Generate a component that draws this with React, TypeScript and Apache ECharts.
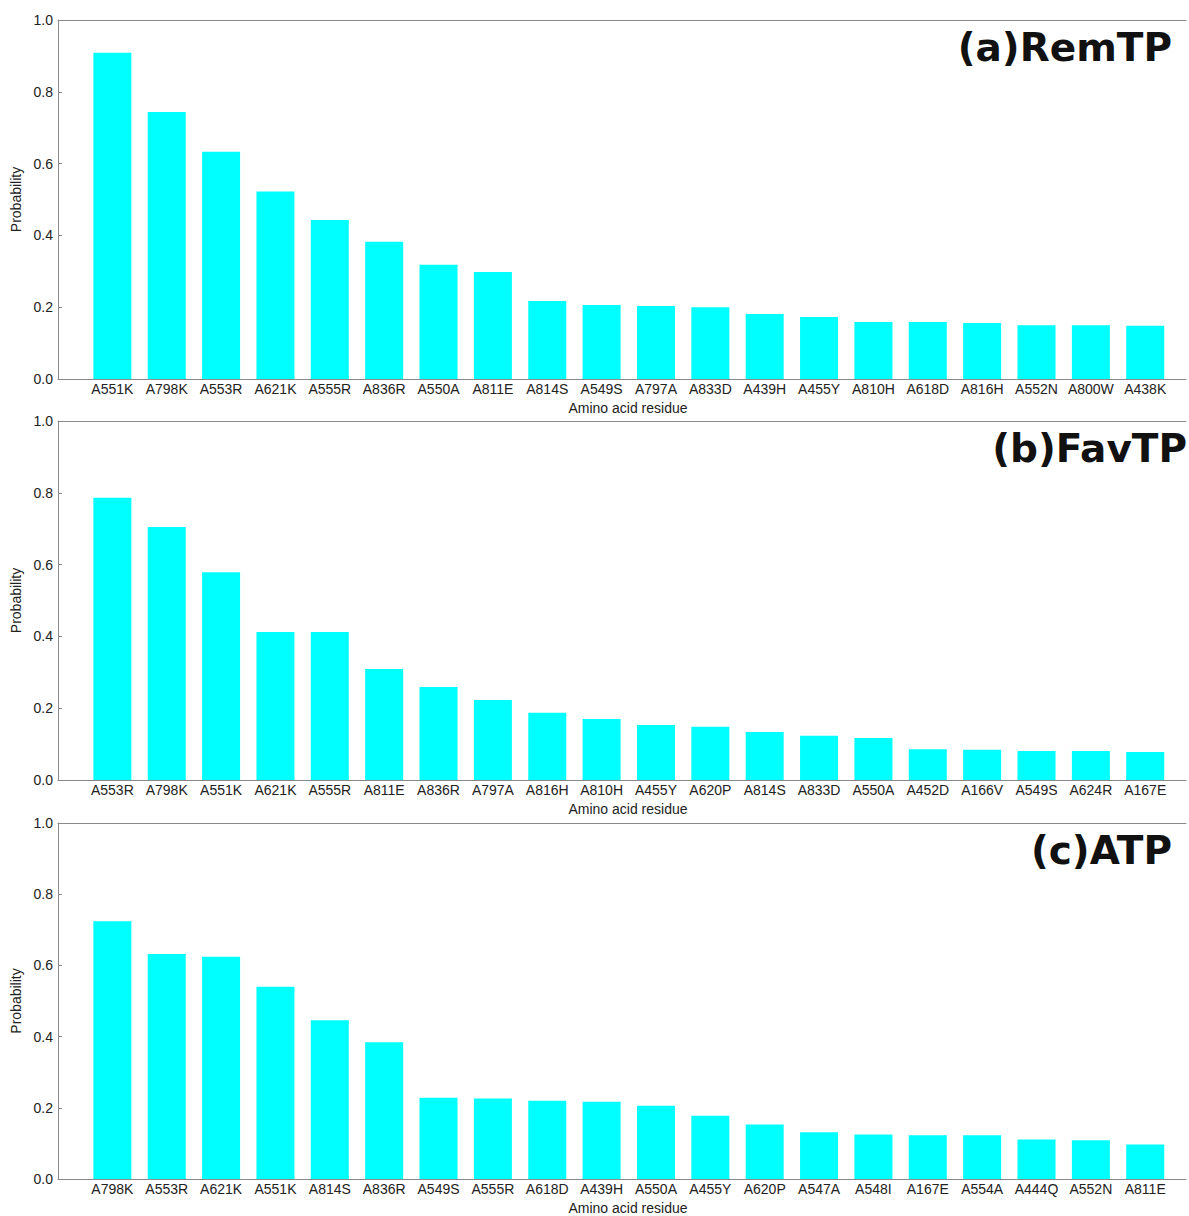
import React, { useEffect, useRef } from "react";
import * as echarts from "echarts";

// Residue labels and probabilities for each of the three ligands
const remtpResidues = ["A551K", "A798K", "A553R", "A621K", "A555R", "A836R", "A550A", "A811E", "A814S", "A549S", "A797A", "A833D", "A439H", "A455Y", "A810H", "A618D", "A816H", "A552N", "A800W", "A438K"];
const remtpValues = [0.909, 0.744, 0.633, 0.522, 0.443, 0.382, 0.318, 0.298, 0.217, 0.206, 0.203, 0.2, 0.181, 0.173, 0.159, 0.159, 0.156, 0.15, 0.15, 0.148];

const favtpResidues = ["A553R", "A798K", "A551K", "A621K", "A555R", "A811E", "A836R", "A797A", "A816H", "A810H", "A455Y", "A620P", "A814S", "A833D", "A550A", "A452D", "A166V", "A549S", "A624R", "A167E"];
const favtpValues = [0.786, 0.705, 0.579, 0.412, 0.412, 0.309, 0.259, 0.223, 0.187, 0.17, 0.153, 0.148, 0.134, 0.123, 0.117, 0.086, 0.084, 0.081, 0.081, 0.078];

const atpResidues = ["A798K", "A553R", "A621K", "A551K", "A814S", "A836R", "A549S", "A555R", "A618D", "A439H", "A550A", "A455Y", "A620P", "A547A", "A548I", "A167E", "A554A", "A444Q", "A552N", "A811E"];
const atpValues = [0.724, 0.632, 0.624, 0.54, 0.446, 0.384, 0.228, 0.226, 0.22, 0.217, 0.206, 0.178, 0.153, 0.131, 0.125, 0.123, 0.123, 0.111, 0.109, 0.097];

const panelTitles = ["(a)RemTP", "(b)FavTP", "(c)ATP"];
const yTicks = [0, 0.2, 0.4, 0.6, 0.8, 1.0];

const panels = [
  { residues: remtpResidues, values: remtpValues, title: panelTitles[0] },
  { residues: favtpResidues, values: favtpValues, title: panelTitles[1] },
  { residues: atpResidues, values: atpValues, title: panelTitles[2] },
];

const W = 1189;
const H = 1216;
const GRID_LEFT = 58;
const GRID_TOPS = [20, 421, 823];
const GRID_H = 359;
const X_MIN = -1;
const X_MAX = 19.75;
const AXIS_GRAY = "#8a8a8a";
const TEXT = "#222";
const FONT = "'Liberation Sans', Arial, sans-serif";

export default function App() {
  const ref = useRef<HTMLDivElement>(null);

  useEffect(() => {
    if (!ref.current) return;
    const chart = echarts.init(ref.current, null, { renderer: "svg" });

    const grids: any[] = [];
    const xAxes: any[] = [];
    const yAxes: any[] = [];
    const series: any[] = [];
    const graphics: any[] = [];

    panels.forEach((p, k) => {
      grids.push({ left: GRID_LEFT, top: GRID_TOPS[k], width: W - GRID_LEFT, height: GRID_H, containLabel: false });
      // bottom axis carrying the residue names
      xAxes.push({
        type: "value",
        gridIndex: k,
        min: X_MIN,
        max: X_MAX,
        interval: 1,
        position: "bottom",
        name: "Amino acid residue",
        nameLocation: "middle",
        nameGap: 22,
        nameTextStyle: { fontFamily: FONT, fontSize: 14, color: TEXT, padding: [0, 0, 0, 12] },
        axisLine: { show: true, onZero: false, lineStyle: { color: AXIS_GRAY, width: 1 } },
        axisTick: { show: false },
        splitLine: { show: false },
        axisLabel: {
          show: true,
          margin: 3,
          fontFamily: FONT,
          fontSize: 14,
          color: TEXT,
          showMinLabel: true,
          showMaxLabel: true,
          formatter: (v: number) => {
            const i = Math.round(v);
            if (Math.abs(v - i) > 1e-6 || i < 0 || i >= p.residues.length) return "";
            return p.residues[i];
          },
        },
      });
      // top frame line
      xAxes.push({
        type: "value",
        gridIndex: k,
        min: X_MIN,
        max: X_MAX,
        position: "top",
        axisLine: { show: true, onZero: false, lineStyle: { color: AXIS_GRAY, width: 1 } },
        axisTick: { show: false },
        axisLabel: { show: false },
        splitLine: { show: false },
      });
      yAxes.push({
        type: "value",
        gridIndex: k,
        min: 0,
        max: 1,
        interval: 0.2,
        position: "left",
        name: "Probability",
        nameLocation: "middle",
        nameGap: 34,
        nameTextStyle: { fontFamily: FONT, fontSize: 14, color: TEXT },
        axisLine: { show: true, onZero: false, lineStyle: { color: AXIS_GRAY, width: 1 } },
        axisTick: { show: true, inside: true, length: 4, lineStyle: { color: AXIS_GRAY } },
        splitLine: { show: false },
        axisLabel: {
          margin: 5,
          fontFamily: FONT,
          fontSize: 14,
          color: TEXT,
          formatter: (v: number) => (yTicks.some((t) => Math.abs(t - v) < 1e-6) ? v.toFixed(1) : ""),
        },
      });
      series.push({
        type: "bar",
        xAxisIndex: 2 * k,
        yAxisIndex: k,
        barWidth: 38,
        itemStyle: { color: "#00ffff" },
        data: p.values.map((v, i) => [i, v]),
      });
      graphics.push({
        type: "text",
        right: k === 1 ? 2 : 17,
        top: GRID_TOPS[k] + 8,
        style: {
          text: p.title,
          font: "bold 39px 'DejaVu Sans', sans-serif",
          fill: "#111",
        },
      });
    });

    chart.setOption({
      animation: false,
      backgroundColor: "#ffffff",
      grid: grids,
      xAxis: xAxes,
      yAxis: yAxes,
      series,
      graphic: graphics,
    });

    return () => chart.dispose();
  }, []);

  return (
    <div
      ref={ref}
      style={{ position: "absolute", left: 0, top: 0, width: W, height: H, background: "#fff" }}
    />
  );
}
